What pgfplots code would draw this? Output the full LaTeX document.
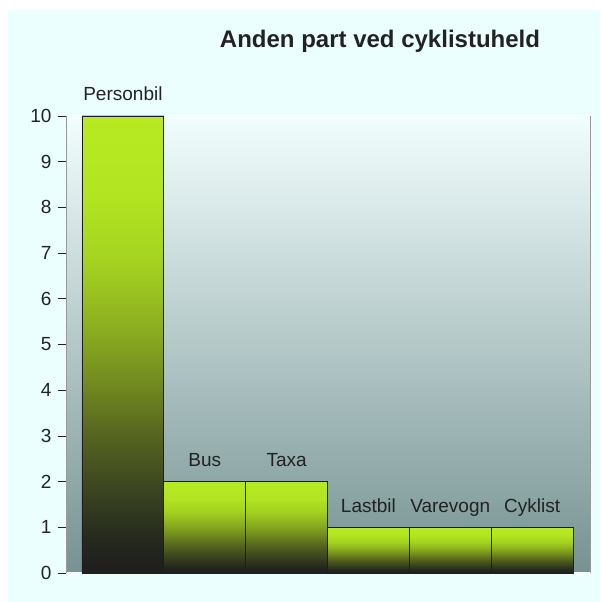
\documentclass[border=0pt]{standalone}
\usepackage{pgfplots}
\pgfplotsset{compat=1.18}
\usepackage{pgfplotstable}
\usepackage{fontspec}
\setmainfont{Liberation Sans}
\definecolor{bgcyan}{HTML}{EBFFFF}
\definecolor{plottop}{HTML}{F2FEFE}
\definecolor{plotbot}{HTML}{769292}
\definecolor{bardark}{HTML}{1E1E1E}
\definecolor{txt}{HTML}{222222}
\pgfdeclareverticalshading{barshade}{100bp}{
  rgb(0bp)=(0.118,0.118,0.118);
  rgb(25bp)=(0.118,0.118,0.118);
  rgb(28bp)=(0.137,0.149,0.118);
  rgb(34bp)=(0.227,0.267,0.125);
  rgb(40bp)=(0.333,0.392,0.125);
  rgb(46bp)=(0.451,0.549,0.125);
  rgb(52bp)=(0.549,0.686,0.125);
  rgb(59bp)=(0.647,0.824,0.125);
  rgb(66bp)=(0.698,0.894,0.133);
  rgb(75bp)=(0.722,0.918,0.133);
  rgb(100bp)=(0.722,0.918,0.133)}
\pgfplotstableread{
x y label
0 10 Personbil
}\tPersonbil
\pgfplotstableread{
x y label
1 2 Bus
}\tBus
\pgfplotstableread{
x y label
2 2 Taxa
}\tTaxa
\pgfplotstableread{
x y label
3 1 Lastbil
}\tLastbil
\pgfplotstableread{
x y label
4 1 Varevogn
}\tVarevogn
\pgfplotstableread{
x y label
5 1 Cyklist
}\tCyklist
\begin{document}
\begin{tikzpicture}[x=1pt,y=1pt]
\fill[white] (0,0) rectangle (600,602);
\fill[bgcyan] (8,0) rectangle (600,592);
\node[anchor=base, font=\fontsize{24}{28}\selectfont\bfseries, text=txt] at (380,554) {Anden part ved cyklistuheld};
\begin{axis}[
  at={(66pt,29pt)}, anchor=south west,
  scale only axis, width=524pt, height=457pt,
  xmin=-0.6955, xmax=5.708,
  ymin=0, ymax=10,
  ytick={0,1,...,10},
  xtick=\empty,
  ytick pos=left,
  tick align=outside,
  major tick length=8pt,
  tick style={draw=txt, line width=0.6pt},
  separate axis lines,
  x axis line style={draw=white, line width=1pt},
  y axis line style={draw=gray!80, line width=0.8pt},
  axis background/.style={shade, top color=plottop, bottom color=plotbot},
  /pgf/number format/assume math mode=true,
  yticklabel style={font=\fontsize{19}{22}\selectfont, text=txt, xshift=-3pt},
  ybar, bar width=1, bar shift=0pt,
  nodes near coords,
  point meta=explicit symbolic,
  every node near coord/.append style={anchor=base, yshift=15pt, font=\fontsize{19}{22}\selectfont, text=txt},
  clip=false,
]
\addplot[draw=bardark, line width=0.8pt, shading=barshade] table[x=x, y=y, meta=label] {\tPersonbil};
\addplot[draw=bardark, line width=0.8pt, shading=barshade] table[x=x, y=y, meta=label] {\tBus};
\addplot[draw=bardark, line width=0.8pt, shading=barshade] table[x=x, y=y, meta=label] {\tTaxa};
\addplot[draw=bardark, line width=0.8pt, shading=barshade] table[x=x, y=y, meta=label] {\tLastbil};
\addplot[draw=bardark, line width=0.8pt, shading=barshade] table[x=x, y=y, meta=label] {\tVarevogn};
\addplot[draw=bardark, line width=0.8pt, shading=barshade] table[x=x, y=y, meta=label] {\tCyklist};
\end{axis}
\end{tikzpicture}
\end{document}
